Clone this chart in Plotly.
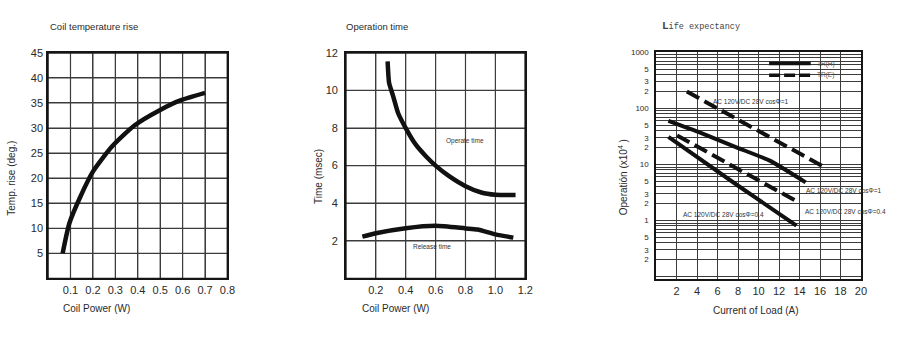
import math
import plotly.graph_objects as go
from plotly.subplots import make_subplots

W, H = 900, 337

def fx(p):
    return p / W

def fy(p):
    return 1 - p / H

# ---------------- data ----------------
# Panel 1: coil temperature rise
coil_power_1 = [0.065, 0.095, 0.145, 0.2, 0.285, 0.385, 0.5, 0.59, 0.7]
temp_rise = [5.0, 11.0, 16.4, 21.3, 26.3, 30.5, 33.6, 35.5, 37.0]

# Panel 2: operation time
operate_power = [0.279, 0.289, 0.316, 0.349, 0.4, 0.469, 0.535, 0.6, 0.688, 0.797, 0.906, 1.0, 1.135]
operate_time = [11.55, 10.4, 9.7, 8.8, 8.0, 7.1, 6.5, 6.0, 5.45, 4.92, 4.57, 4.45, 4.43]
release_power = [0.11, 0.2, 0.4, 0.6, 0.8, 0.88, 1.0, 1.12]
release_time = [2.22, 2.4, 2.67, 2.8, 2.66, 2.6, 2.34, 2.17]

# Panel 3: life expectancy (x10^4 operations)
trh_cos1_current = [1.2, 4.3, 7.9, 11.1, 14.6]
trh_cos1_ops = [60, 37, 20, 11.7, 4.8]
tre_cos1_current = [3.0, 16.7]
tre_cos1_ops = [200, 8.4]
trh_cos04_current = [1.2, 7.9, 13.7]
trh_cos04_ops = [31, 4.3, 0.81]
tre_cos04_current = [2.05, 14.0]
tre_cos04_ops = [33, 2.06]

# axis ranges and tick labels
p1_xrange, p1_yrange = [0, 0.8], [0, 45]
p2_xrange, p2_yrange = [0, 1.2], [0, 12]
p1_xticks = [0.1, 0.2, 0.3, 0.4, 0.5, 0.6, 0.7, 0.8]
p1_yticks = [5, 10, 15, 20, 25, 30, 35, 40, 45]
p2_xticks = [0.2, 0.4, 0.6, 0.8, 1.0, 1.2]
p2_yticks = [2, 4, 6, 8, 10, 12]
p3_xticks = [2, 4, 6, 8, 10, 12, 14, 16, 18, 20]
p3_decades = [0.1, 1, 10, 100]
p3_labelled = {2: "2", 3: "3", 5: "5"}

FONT = "Liberation Sans Narrow, Arial Narrow, Liberation Sans, Arial, sans-serif"
TXT = "#2a2a2a"
LINE = "#111111"
GRID = "#3c3c3c"

fig = make_subplots(rows=1, cols=3)

# grid + frame for panels 1 and 2, built from the tick arrays (drawn under the curves)
def grid_xy(xticks, yticks, xr, yr):
    gx, gy = [], []
    for v in xticks:
        gx += [v, v, None]
        gy += [yr[0], yr[1], None]
    for v in yticks:
        gx += [xr[0], xr[1], None]
        gy += [v, v, None]
    return gx, gy

def frame_xy(xr, yr):
    return [xr[0], xr[1], xr[1], xr[0], xr[0]], [yr[0], yr[0], yr[1], yr[1], yr[0]]

for col, xt, yt, xr, yr in [(1, p1_xticks, p1_yticks, p1_xrange, p1_yrange),
                            (2, p2_xticks, p2_yticks, p2_xrange, p2_yrange)]:
    gx, gy = grid_xy(xt, yt, xr, yr)
    fig.add_trace(go.Scatter(x=gx, y=gy, mode="lines", line=dict(color=GRID, width=1.2),
                             hoverinfo="skip", showlegend=False, cliponaxis=False),
                  row=1, col=col)
    bx, by = frame_xy(xr, yr)
    fig.add_trace(go.Scatter(x=bx, y=by, mode="lines", line=dict(color="#151515", width=1.5),
                             hoverinfo="skip", showlegend=False, cliponaxis=False),
                  row=1, col=col)

# Panel 1
fig.add_trace(go.Scatter(x=coil_power_1, y=temp_rise, mode="lines",
                         line=dict(color=LINE, width=4.5, shape="spline", smoothing=0.6),
                         showlegend=False), row=1, col=1)
# Panel 2
fig.add_trace(go.Scatter(x=operate_power, y=operate_time, mode="lines",
                         line=dict(color=LINE, width=4.5, shape="spline", smoothing=0.5),
                         showlegend=False), row=1, col=2)
fig.add_trace(go.Scatter(x=release_power, y=release_time, mode="lines",
                         line=dict(color=LINE, width=4.5, shape="spline", smoothing=0.6),
                         showlegend=False), row=1, col=2)
# Panel 3
for xs, ys, dash in [
    (tre_cos1_current, tre_cos1_ops, "14px,6px"),
    (trh_cos1_current, trh_cos1_ops, "solid"),
    (tre_cos04_current, tre_cos04_ops, "14px,6px"),
    (trh_cos04_current, trh_cos04_ops, "solid"),
]:
    fig.add_trace(go.Scatter(x=xs, y=ys, mode="lines",
                             line=dict(color=LINE, width=4, dash=dash,
                                       shape="spline", smoothing=0.5),
                             showlegend=False), row=1, col=3)

# log ticks for panel 3
p3_vals, p3_text = [], []
for d in p3_decades:
    for k in range(1, 10):
        v = k * d
        p3_vals.append(v)
        if k == 1:
            p3_text.append(" " if d < 1 else str(int(v)))
        else:
            p3_text.append(p3_labelled.get(k, " "))
p3_vals.append(1000)
p3_text.append("1000")

TICKF = dict(family=FONT, size=11, color=TXT)
common = dict(showgrid=True, gridcolor=GRID, gridwidth=1, zeroline=False,
              showline=True, mirror=True, linecolor="#151515", linewidth=1.5,
              tickfont=TICKF, ticks="outside", tickcolor="rgba(0,0,0,0)")

fig.update_xaxes(**common)
fig.update_yaxes(**common)

fig.update_xaxes(row=1, col=1, domain=[fx(48.5), fx(229.5)], range=p1_xrange,
                 tickvals=p1_xticks, ticktext=[f"{v:.1f}" for v in p1_xticks], ticklen=1)
fig.update_yaxes(row=1, col=1, domain=[fy(279), fy(48)], range=p1_yrange,
                 tickvals=p1_yticks, ticklen=1)
fig.update_xaxes(row=1, col=2, domain=[fx(349), fx(530)], range=p2_xrange,
                 tickvals=p2_xticks, ticktext=[f"{v:.1f}" for v in p2_xticks], ticklen=1)
fig.update_yaxes(row=1, col=2, domain=[fy(279), fy(48)], range=p2_yrange,
                 tickvals=p2_yticks, ticklen=4)
fig.update_xaxes(row=1, col=3, domain=[fx(662), fx(868.7)], range=[0, 20],
                 tickvals=p3_xticks, ticklen=1)
fig.update_yaxes(row=1, col=3, domain=[fy(280), fy(47.5)], type="log", range=[-1.05, 3],
                 tickvals=p3_vals, ticktext=p3_text, ticklen=4,
                 tickfont=dict(family=FONT, size=8, color=TXT))

fig.update_layout(
    width=W, height=H, autosize=False,
    margin=dict(l=0, r=0, t=0, b=0),
    paper_bgcolor="white", plot_bgcolor="rgba(0,0,0,0)",
    font=dict(family=FONT, color=TXT),
)

ann = []

def label(text, x, y, size=10, angle=0, xanchor="center", color=TXT, family=FONT):
    ann.append(dict(text=text, x=fx(x), y=fy(y), xref="paper", yref="paper",
                    xanchor=xanchor, yanchor="middle", showarrow=False,
                    textangle=angle, font=dict(family=family, size=size, color=color)))

# titles
label("Coil temperature rise", 48, 21, size=9.5, xanchor="left")
label("Operation time", 347, 21, size=9.5, xanchor="left")
label("<span style='font-size:11px'><b>L</b></span>ife expectancy", 666, 20, size=8.5,
      xanchor="left", family="Liberation Mono, DejaVu Sans Mono, monospace", color="#444")
# axis titles
label("Temp. rise (deg.)", 12, 176, size=10, angle=-90)
label("Coil Power (W)", 97.5, 310, size=10)
label("Time (msec)", 322, 175, size=10, angle=-90)
label("Coil Power (W)", 399, 310, size=10)
label("Operatión (x10<sup>4</sup> )", 628, 175, size=10, angle=-90)
label("Current of Load (A)", 763, 312, size=10)

# in-plot notes
def note(text, x, y, xr, yr, size=6.5):
    ann.append(dict(text=text, x=x, y=y, xref=xr, yref=yr, showarrow=False,
                    xanchor="center", yanchor="middle",
                    font=dict(family=FONT, size=size, color="#333")))

note("Operate time", 0.796, 7.29, "x2", "y2")
note("Release time", 0.573, 1.67, "x2", "y2")
# log axis: annotation y given as log10 of the value
note("AC 120V/DC 28V cosΦ=1", 9.17, math.log10(133), "x3", "y3")
note("AC 120V/DC 28V cosΦ=1", 18.3, math.log10(3.5), "x3", "y3")
note("AC 120V/DC 28V cosΦ=0.4", 18.5, math.log10(1.42), "x3", "y3")
note("AC 120V/DC 28V cosΦ=0.4", 6.6, math.log10(1.29), "x3", "y3")
# legend texts
label("TR(H)", 822, 59, size=6.5, xanchor="left", color="#555")
label("TR(E)", 822, 71, size=6.5, xanchor="left", color="#555")

# legend keys
shapes = [
    dict(type="line", xref="paper", yref="paper", x0=fx(776), x1=fx(818), y0=fy(59), y1=fy(59),
         line=dict(color=LINE, width=3.5)),
    dict(type="line", xref="paper", yref="paper", x0=fx(776), x1=fx(819), y0=fy(71), y1=fy(71),
         line=dict(color=LINE, width=3.5, dash="11px,4px")),
]

fig.update_layout(annotations=ann, shapes=shapes)
fig.write_html("out.html")
